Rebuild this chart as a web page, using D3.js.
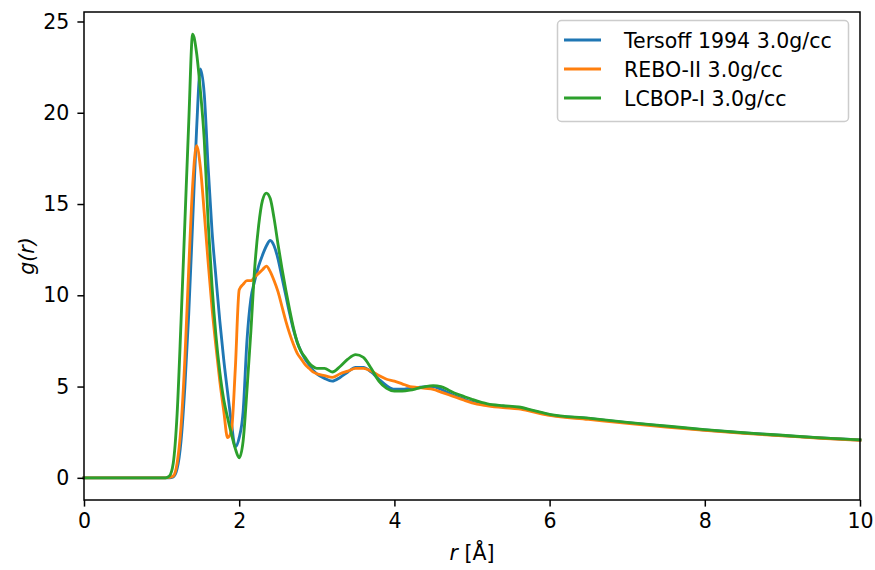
<!DOCTYPE html>
<html>
<head>
<meta charset="utf-8">
<script src="https://cdn.jsdelivr.net/npm/d3@7/dist/d3.min.js"></script>
<style>
  html, body { margin: 0; padding: 0; background: #fff; }
  svg { display: block; font-family: "DejaVu Sans", sans-serif; }
</style>
</head>
<body>
<svg id="chart" width="875" height="570"></svg>
<script>
// Radial distance grid r [Å]
const rGrid = [0, 1.0, 1.05, 1.1, 1.15, 1.2, 1.25, 1.3, 1.35, 1.4, 1.45, 1.5, 1.55, 1.6, 1.65, 1.7, 1.75, 1.8, 1.85, 1.9, 1.95,
  2.0, 2.05, 2.1, 2.15, 2.2, 2.25, 2.3, 2.35, 2.4, 2.45, 2.5, 2.55, 2.6, 2.65, 2.7, 2.75, 2.8, 2.85, 2.9, 2.95, 3.0,
  3.1, 3.2, 3.3, 3.4, 3.5, 3.6, 3.7, 3.8, 3.9, 4.0, 4.1, 4.2, 4.3, 4.4, 4.5, 4.6, 4.7, 4.8, 4.9, 5.0,
  5.2, 5.4, 5.6, 5.8, 6.0, 6.5, 7.0, 7.5, 8.0, 8.5, 9.0, 9.5, 10.0];

// g(r) for each potential
const tersoff = [0, 0, 0, 0, 0.05, 0.5, 2.0, 5.0, 9.0, 14.0, 19.0, 22.4, 21.0, 17.0, 13.5, 11.0, 8.6, 6.5, 4.7, 3.0, 1.7,
  2.2, 3.6, 7.5, 9.8, 10.8, 11.6, 12.2, 12.7, 13.0, 12.7, 12.0, 11.0, 10.0, 9.0, 8.1, 7.4, 6.9, 6.5, 6.2, 5.9, 5.7,
  5.45, 5.3, 5.5, 5.8, 6.05, 6.05, 5.8, 5.4, 5.05, 4.85, 4.85, 4.9, 4.95, 5.0, 5.0, 4.85, 4.65, 4.45, 4.3, 4.15,
  4.0, 3.92, 3.85, 3.65, 3.45, 3.25, 3.02, 2.82, 2.62, 2.46, 2.32, 2.18, 2.07];

const rebo = [0, 0, 0, 0.02, 0.1, 0.8, 2.8, 6.5, 11.5, 16.0, 18.2, 17.0, 14.5, 11.8, 9.3, 7.2, 5.3, 3.7, 2.2, 2.6, 6.0,
  10.3, 10.6, 10.8, 10.8, 11.0, 11.2, 11.4, 11.6, 11.3, 10.8, 10.2, 9.4, 8.6, 7.9, 7.3, 6.8, 6.5, 6.2, 6.0, 5.8, 5.7,
  5.6, 5.5, 5.7, 5.85, 6.0, 6.0, 5.85, 5.6, 5.4, 5.3, 5.15, 5.0, 4.95, 4.9, 4.85, 4.7, 4.55, 4.4, 4.25, 4.1,
  3.95, 3.85, 3.78, 3.6, 3.42, 3.2, 2.98, 2.78, 2.6, 2.44, 2.3, 2.17, 2.06];

const lcbop = [0, 0, 0, 0.1, 0.8, 3.5, 8.5, 14.0, 19.5, 24.3, 23.3, 21.2, 18.5, 14.0, 10.5, 7.8, 5.8, 4.3, 3.3, 2.4, 1.6,
  1.1, 2.0, 4.8, 8.0, 11.5, 13.8, 15.2, 15.6, 15.3, 14.2, 12.8, 11.5, 10.3, 9.2, 8.2, 7.4, 6.9, 6.6, 6.3, 6.1, 6.0,
  6.0, 5.8, 6.1, 6.5, 6.75, 6.6, 6.0, 5.3, 4.9, 4.75, 4.75, 4.8, 4.9, 5.0, 5.05, 5.0, 4.8, 4.6, 4.45, 4.3,
  4.05, 3.95, 3.88, 3.68, 3.48, 3.27, 3.04, 2.84, 2.64, 2.47, 2.33, 2.19, 2.08];

const seriesNames = ["Tersoff 1994 3.0g/cc", "REBO-II 3.0g/cc", "LCBOP-I 3.0g/cc"];
const seriesColors = ["#1f77b4", "#ff7f0e", "#2ca02c"];
const xTicks = [0, 2, 4, 6, 8, 10];
const yTicks = [0, 5, 10, 15, 20, 25];

const svg = d3.select("#chart");
const plotLeft = 84, plotRight = 860, plotTop = 12, plotBottom = 500;
const FS = 20.5;

const x = d3.scaleLinear().domain([0, 10]).range([plotLeft, plotRight]);
const y = d3.scaleLinear().domain([-1.215, 25.52]).range([plotBottom, plotTop]);

// curves
const allSeries = [tersoff, rebo, lcbop];
const line = d3.line()
  .x((d, i) => x(rGrid[i]))
  .y(d => y(d))
  .curve(d3.curveMonotoneX);

const plot = svg.append("g");
allSeries.forEach((vals, k) => {
  plot.append("path")
    .datum(vals)
    .attr("d", line)
    .attr("fill", "none")
    .attr("stroke", seriesColors[k])
    .attr("stroke-width", 2.85)
    .attr("stroke-linejoin", "round")
    .attr("stroke-linecap", "square");
});

// axes
const xAxis = d3.axisBottom(x).tickValues(xTicks).tickSize(6.6).tickPadding(7).tickFormat(d3.format("d"));
const yAxis = d3.axisLeft(y).tickValues(yTicks).tickSize(6.6).tickPadding(8).tickFormat(d3.format("d"));

const gx = svg.append("g").attr("transform", `translate(0,${plotBottom})`).call(xAxis);
const gy = svg.append("g").attr("transform", `translate(${plotLeft},0)`).call(yAxis);
[gx, gy].forEach(g => {
  g.select(".domain").remove();
  g.selectAll(".tick line").attr("stroke", "#000").attr("stroke-width", 1.5);
  g.selectAll(".tick text").attr("fill", "#000").style("font-size", FS + "px").style("font-family", "DejaVu Sans");
});

// frame
svg.append("rect")
  .attr("x", plotLeft).attr("y", plotTop)
  .attr("width", plotRight - plotLeft).attr("height", plotBottom - plotTop)
  .attr("fill", "none").attr("stroke", "#000").attr("stroke-width", 1.5);

// axis labels
const xl = svg.append("text")
  .attr("x", (plotLeft + plotRight) / 2).attr("y", 560)
  .attr("text-anchor", "middle")
  .style("font-size", FS + "px");
xl.append("tspan").attr("font-style", "italic").text("r");
xl.append("tspan").text(" [Å]");

svg.append("text")
  .attr("transform", `translate(34,${(plotTop + plotBottom) / 2}) rotate(-90)`)
  .attr("text-anchor", "middle")
  .style("font-size", FS + "px")
  .attr("font-style", "italic")
  .text("g(r)");

// legend
const lg = svg.append("g");
lg.append("rect")
  .attr("x", 557.5).attr("y", 20.5).attr("width", 291).attr("height", 101)
  .attr("rx", 4).attr("fill", "#fff").attr("fill-opacity", 0.8)
  .attr("stroke", "#cccccc").attr("stroke-width", 1.5);
seriesNames.forEach((name, k) => {
  const cy = 40 + k * 29;
  lg.append("line")
    .attr("x1", 564).attr("x2", 601).attr("y1", cy).attr("y2", cy)
    .attr("stroke", seriesColors[k]).attr("stroke-width", 2.85);
  lg.append("text")
    .attr("x", 624).attr("y", cy + 7.5)
    .style("font-size", FS + "px")
    .text(name);
});
</script>
</body>
</html>
